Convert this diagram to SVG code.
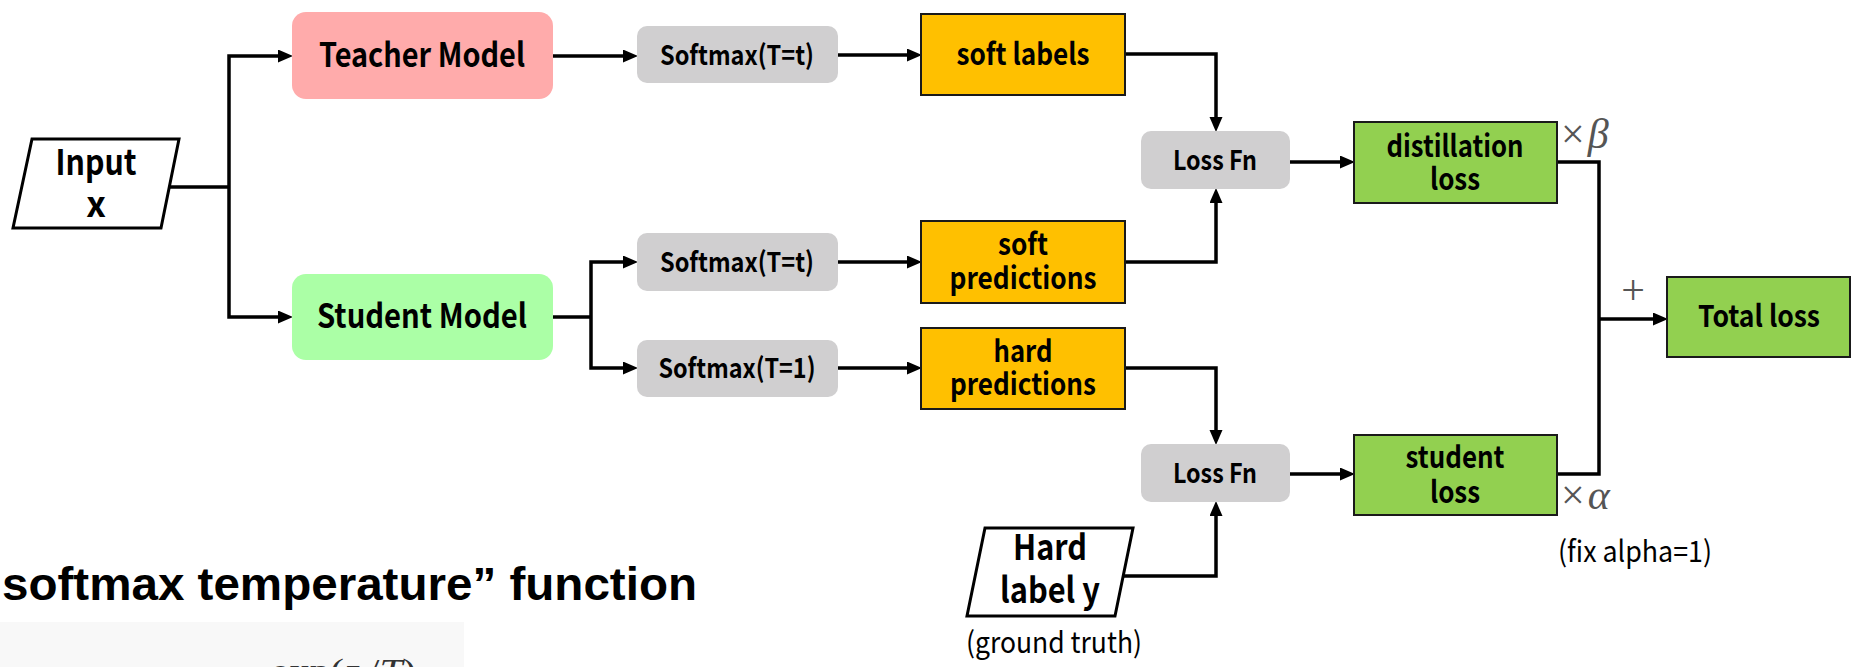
<svg xmlns="http://www.w3.org/2000/svg" width="1852" height="667" viewBox="0 0 1852 667">
<defs>
<marker id="arr" markerUnits="userSpaceOnUse" markerWidth="16" markerHeight="14" refX="10" refY="6.5" orient="auto">
<path d="M0,0 L15,6.5 L0,13 z" fill="#000"/>
</marker>
<style>
.lbl{font-family:"Noto Sans CJK KR","Open Sans",sans-serif;font-weight:700;fill:#000;text-anchor:middle}
.reg{font-family:"Noto Sans CJK KR","Open Sans",sans-serif;font-weight:400;fill:#000;text-anchor:middle}
.math{font-family:"Liberation Serif","DejaVu Serif",serif;fill:#555}
.conn{fill:none;stroke:#000;stroke-width:3.5}
.gray{fill:#d0cfd0}
.orange{fill:#ffc000;stroke:#1a1a1a;stroke-width:2}
.green{fill:#92d050;stroke:#1a1a1a;stroke-width:2}
.para{fill:#fff;stroke:#000;stroke-width:3}
</style>
</defs>
<rect width="1852" height="667" fill="#fff"/>

<g id="connectors">
<path class="conn" d="M169,187 H229"/>
<path class="conn" d="M229,187 V56 H288" marker-end="url(#arr)"/>
<path class="conn" d="M229,187 V317 H288" marker-end="url(#arr)"/>
<path class="conn" d="M553,56 H633" marker-end="url(#arr)"/>
<path class="conn" d="M838,55 H917" marker-end="url(#arr)"/>
<path class="conn" d="M1125,54 H1216 V127" marker-end="url(#arr)"/>
<path class="conn" d="M553,317 H591"/>
<path class="conn" d="M591,317 V262 H633" marker-end="url(#arr)"/>
<path class="conn" d="M591,317 V368 H633" marker-end="url(#arr)"/>
<path class="conn" d="M838,262 H917" marker-end="url(#arr)"/>
<path class="conn" d="M838,368 H917" marker-end="url(#arr)"/>
<path class="conn" d="M1125,262 H1216 V193" marker-end="url(#arr)"/>
<path class="conn" d="M1125,368 H1216 V440" marker-end="url(#arr)"/>
<path class="conn" d="M1123,576 H1216 V506" marker-end="url(#arr)"/>
<path class="conn" d="M1290,162 H1350" marker-end="url(#arr)"/>
<path class="conn" d="M1290,474 H1350" marker-end="url(#arr)"/>
<path class="conn" d="M1557,162 H1599 V474 H1557"/>
<path class="conn" d="M1599,319 H1663" marker-end="url(#arr)"/>
</g>

<g id="input">
<polygon class="para" points="32,139 179,139 161,228 13,228"/>
<text class="lbl" x="96" y="175" font-size="35" textLength="81" lengthAdjust="spacingAndGlyphs">Input</text>
<text class="lbl" x="96" y="217" font-size="35">x</text>
</g>

<g id="teacher">
<rect x="292" y="12" width="261" height="87" rx="14" fill="#ffabab"/>
<text class="lbl" x="422" y="67" font-size="33" textLength="206" lengthAdjust="spacingAndGlyphs">Teacher Model</text>
</g>

<g id="student">
<rect x="292" y="274" width="261" height="86" rx="14" fill="#abffa6"/>
<text class="lbl" x="422" y="328" font-size="33" textLength="210" lengthAdjust="spacingAndGlyphs">Student Model</text>
</g>

<g id="softmax-teacher">
<rect class="gray" x="637" y="26" width="201" height="57" rx="10"/>
<text class="lbl" x="737" y="65" font-size="27" textLength="154" lengthAdjust="spacingAndGlyphs">Softmax(T=t)</text>
</g>

<g id="softmax-student-t">
<rect class="gray" x="637" y="233" width="201" height="58" rx="10"/>
<text class="lbl" x="737" y="272" font-size="27" textLength="154" lengthAdjust="spacingAndGlyphs">Softmax(T=t)</text>
</g>

<g id="softmax-student-1">
<rect class="gray" x="637" y="340" width="201" height="57" rx="10"/>
<text class="lbl" x="737" y="378" font-size="27" textLength="157" lengthAdjust="spacingAndGlyphs">Softmax(T=1)</text>
</g>

<g id="soft-labels">
<rect class="orange" x="921" y="14" width="204" height="81"/>
<text class="lbl" x="1023" y="65" font-size="30" textLength="133" lengthAdjust="spacingAndGlyphs">soft labels</text>
</g>

<g id="soft-predictions">
<rect class="orange" x="921" y="221" width="204" height="82"/>
<text class="lbl" x="1023" y="255" font-size="30" textLength="50" lengthAdjust="spacingAndGlyphs">soft</text>
<text class="lbl" x="1023" y="289" font-size="30" textLength="147" lengthAdjust="spacingAndGlyphs">predictions</text>
</g>

<g id="hard-predictions">
<rect class="orange" x="921" y="328" width="204" height="81"/>
<text class="lbl" x="1023" y="362" font-size="30" textLength="59" lengthAdjust="spacingAndGlyphs">hard</text>
<text class="lbl" x="1023" y="395" font-size="30" textLength="146" lengthAdjust="spacingAndGlyphs">predictions</text>
</g>

<g id="loss-fn-1">
<rect class="gray" x="1141" y="131" width="149" height="58" rx="10"/>
<text class="lbl" x="1215" y="170" font-size="27" textLength="84" lengthAdjust="spacingAndGlyphs">Loss Fn</text>
</g>

<g id="loss-fn-2">
<rect class="gray" x="1141" y="444" width="149" height="58" rx="10"/>
<text class="lbl" x="1215" y="483" font-size="27" textLength="84" lengthAdjust="spacingAndGlyphs">Loss Fn</text>
</g>

<g id="hard-label">
<polygon class="para" points="985,528 1133,528 1115,616 967,616"/>
<text class="lbl" x="1050" y="560" font-size="35" textLength="74" lengthAdjust="spacingAndGlyphs">Hard</text>
<text class="lbl" x="1050" y="603" font-size="35" textLength="100" lengthAdjust="spacingAndGlyphs">label y</text>
<text class="reg" x="1054" y="653" font-size="29" textLength="176" lengthAdjust="spacingAndGlyphs">(ground truth)</text>
</g>

<g id="distillation-loss">
<rect class="green" x="1354" y="122" width="203" height="81"/>
<text class="lbl" x="1455" y="157" font-size="30" textLength="137" lengthAdjust="spacingAndGlyphs">distillation</text>
<text class="lbl" x="1455" y="190" font-size="30" textLength="50" lengthAdjust="spacingAndGlyphs">loss</text>
<text class="math" x="1561" y="148" font-size="42">×<tspan dx="3" font-style="italic">β</tspan></text>
</g>

<g id="student-loss">
<rect class="green" x="1354" y="435" width="203" height="80"/>
<text class="lbl" x="1455" y="468" font-size="30" textLength="99" lengthAdjust="spacingAndGlyphs">student</text>
<text class="lbl" x="1455" y="503" font-size="30" textLength="50" lengthAdjust="spacingAndGlyphs">loss</text>
<text class="math" x="1561" y="509" font-size="42">×<tspan dx="3" font-style="italic">α</tspan></text>
<text class="reg" x="1635" y="562" font-size="29" textLength="154" lengthAdjust="spacingAndGlyphs">(fix alpha=1)</text>
</g>

<g id="total-loss">
<text class="math" x="1633" y="304" font-size="42" text-anchor="middle">+</text>
<rect class="green" x="1667" y="277" width="183" height="80"/>
<text class="lbl" x="1759" y="327" font-size="30" textLength="122" lengthAdjust="spacingAndGlyphs">Total loss</text>
</g>

<g id="formula">
<text x="2" y="600" font-family="Liberation Sans, Arial, sans-serif" font-weight="700" font-size="46" textLength="695" lengthAdjust="spacingAndGlyphs">softmax temperature” function</text>
<rect x="0" y="622" width="464" height="45" fill="#f8f8f8"/>
<text x="271" y="682" font-family="Liberation Serif, serif" font-size="34" fill="#333" textLength="145" lengthAdjust="spacingAndGlyphs">exp(<tspan font-style="italic">z</tspan><tspan font-style="italic" font-size="24" dy="5">i</tspan><tspan dy="-5">/</tspan><tspan font-style="italic">T</tspan>)</text>
</g>
</svg>
